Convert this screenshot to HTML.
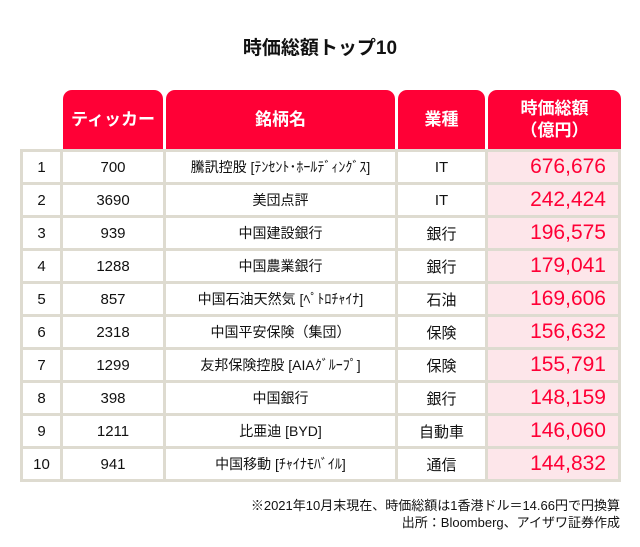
<!DOCTYPE html><html><head><meta charset="utf-8"><style>
body{margin:0;width:640px;height:547px;background:#fff;font-family:"Liberation Sans","Noto Sans CJK JP",sans-serif;position:relative;overflow:hidden}
.a{position:absolute}
.t{left:0;width:640px;top:33px;text-align:center;font-size:19px;font-weight:bold;color:#111}
.h{background:#ff0036;color:#fff;border-radius:9px 9px 0 0;top:90px;height:59px;display:flex;align-items:center;justify-content:center;text-align:center;font-size:17px;font-weight:bold;line-height:22px}
.g{left:20px;top:149px;width:601px;height:333px;background:#dedbd0}
.c{background:#fff;height:30px;display:flex;align-items:center;justify-content:center;font-size:15px;color:#111;white-space:nowrap}
.p{background:#fde6ea;color:#ff0036;font-size:21px;justify-content:flex-end;padding-right:12px;box-sizing:border-box}
.n{font-size:13px;text-align:right;right:20px;color:#111;line-height:17px}
</style></head><body>
<div class="a t">時価総額トップ10</div>
<div class="a h" style="left:63px;width:100px">ティッカー</div>
<div class="a h" style="left:166px;width:229px">銘柄名</div>
<div class="a h" style="left:398px;width:87px">業種</div>
<div class="a h" style="left:488px;width:133px">時価総額<br>（億円）</div>
<div class="a g"></div>
<div id="rows"></div>
<script>
var d=[["1","700","騰訊控股 [ﾃﾝｾﾝﾄ･ﾎｰﾙﾃﾞｨﾝｸﾞｽ]","IT","676,676"],["2","3690","美団点評","IT","242,424"],["3","939","中国建設銀行","銀行","196,575"],["4","1288","中国農業銀行","銀行","179,041"],["5","857","中国石油天然気 [ﾍﾟﾄﾛﾁｬｲﾅ]","石油","169,606"],["6","2318","中国平安保険（集団）","保険","156,632"],["7","1299","友邦保険控股 [AIAｸﾞﾙｰﾌﾟ]","保険","155,791"],["8","398","中国銀行","銀行","148,159"],["9","1211","比亜迪 [BYD]","自動車","146,060"],["10","941","中国移動 [ﾁｬｲﾅﾓﾊﾞｲﾙ]","通信","144,832"]];
var xs=[[23,37],[63,100],[166,229],[398,87],[488,130]],h="";
d.forEach(function(r,i){var y=152+33*i;r.forEach(function(v,j){var fs=(j==2)?"font-size:14px;":"";h+='<div class="a c'+(j==4?' p':'')+'" style="'+fs+'left:'+xs[j][0]+'px;width:'+xs[j][1]+'px;top:'+y+'px">'+v+'</div>'})});
document.getElementById("rows").innerHTML=h;
</script>
<div class="a n" style="top:497px">※2021年10月末現在、時価総額は1香港ドル＝14.66円で円換算<br>出所：Bloomberg、アイザワ証券作成</div>
</body></html>
